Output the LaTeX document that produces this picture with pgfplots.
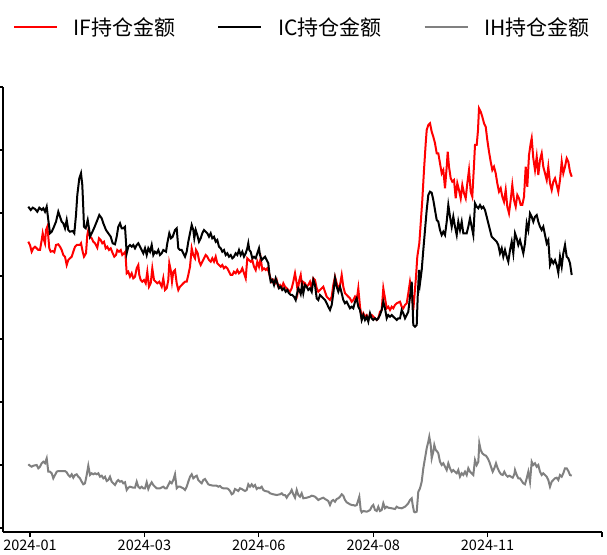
\documentclass[border=0pt]{standalone}
\usepackage{fontspec}
\setmainfont{Noto Sans CJK SC}
\usepackage{pgfplots}
\pgfplotsset{compat=1.18}
\definecolor{ifred}{RGB}{255,0,0}
\definecolor{ihgray}{RGB}{128,128,128}

\begin{document}
\begin{tikzpicture}
\begin{axis}[
  at={(3pt,22pt)}, anchor=south west,
  scale only axis, width=599pt, height=445pt,
  xmin=3, xmax=602, ymin=-4, ymax=441,
  axis x line*=bottom, axis y line*=left,
  axis line style={line width=1.1pt, -},
  xtick={30,144.4,258.8,373.2,487.6,602},
  xticklabels={2024-01,2024-03,2024-06,2024-08,2024-11,{}},
  ytick={0,63,126,189,252,315,378,441},
  yticklabels={},
  tick align=outside, major tick length=5pt,
  tick style={line width=1.1pt, black},
  x tick label style={font=\fontsize{14.5}{14.5}\selectfont, inner sep=1pt, yshift=-2pt},
  legend columns=3,
  legend style={at={(0.5,1)}, anchor=center, yshift=60pt, draw=none,
    font=\fontsize{21}{21}\selectfont,
    /tikz/every odd column/.append style={column sep=14pt},
    /tikz/every even column/.append style={column sep=40pt}},
  legend image code/.code={\draw[#1, line width=1.6pt] (0pt,0pt) -- (43pt,0pt);},
]
% IF
\addplot[ifred, line width=2pt] coordinates {
(28.3,286.3)(30,283)(31.7,276.3)(33.3,279.7)(35,281.3)(36.7,279.7)(38.3,278)(40,278)
(41.7,288)(42.7,294.7)(44,288)(45,284.7)(46,298)(47.3,301.3)(48.3,291.3)(49.3,279.7)
(50.7,276.3)(52.7,277)(54.3,275.7)(56,283)(58.3,283.7)(60,281.3)(61.7,278)(63.3,273)
(65,271.3)(66.7,263)(68.3,268)(70,269.7)(71.7,271.3)(73.3,276.3)(75,281.3)(76.7,283)
(80,283)(81,284.7)(82.7,276.3)(84,271.3)(86,274.7)(87.3,293)(88.3,298)(90,291.3)
(91.7,289.7)(93.3,286.3)(95,284.7)(97.3,280.3)(99,289.7)(100.7,288)(102.3,284.7)(104,286.3)
(105.7,279.7)(107.3,281.3)(109,278)(110.7,279.7)(112.7,274.7)(114.3,271.3)(116,273)(117.3,278)
(119,276.3)(120.7,278)(122.3,273)(124,274.7)(125.3,276.3)(126.7,254.7)(128.3,256.3)(130,251.3)
(131.7,254.7)(133.3,249.7)(135,251.3)(136.7,259.7)(138.3,263)(139.3,253)(140.7,248)(142.3,246.3)
(144,248)(145.7,244.7)(147.3,256.3)(149,241.3)(150.7,244.7)(152.3,259.7)(154,248)(155.7,246.3)
(157.3,244.7)(159.3,246.3)(161.7,241.3)(163.3,249.7)(165,238)(166.7,239.7)(168.3,248)(169.3,264.7)
(170.7,258)(172,246.3)(173.3,256.3)(175,258)(176.7,244.7)(178.3,238)(180,241.3)(181.7,243)
(183.3,244.7)(185,246.3)(186.7,246.3)(188.3,253)(190,261.3)(191.7,279.7)(193.3,273)(195,269.7)
(196,278)(197.7,274.7)(199.3,266.3)(200.7,263)(202.3,266.3)(204,269.7)(205.7,273)(207.3,271.3)
(209,268)(210.7,266.3)(212.3,269.7)(214,266.3)(215.7,271.3)(217.3,264.7)(219,263)(220.7,261.3)
(222.3,263)(224,259.7)(225.7,261.3)(227.3,259.7)(229,256.3)(230.7,253)(232.3,253)(234,256.3)
(235.7,254.7)(237.3,258)(239,254.7)(240.7,256.3)(242.3,259.7)(244,254.7)(245.7,249.7)(247.3,269.7)
(249,268)(250.7,266.3)(252.3,268)(254,261.3)(255.7,258)(257.3,266.3)(259,261.3)(260.7,269.7)
(262.3,258)(264,259.7)(265.7,258)(267.3,259.7)(268.7,256.3)(270,251.3)(271.7,246.3)(273.3,248)
(275,244.7)(276.7,248)(278.3,241.3)(280,243)(281.7,239.7)(283.3,244.7)(285,241.3)(286.7,239.7)
(288.3,238)(290,236.3)(291.7,239.7)(293.3,246.3)(295,254.7)(296.7,244.7)(297.7,236.3)(299.3,248)
(300.7,253)(302,241.3)(303.3,246)(305,244.7)(306.7,241.3)(308.3,243)(310,246.3)(311.7,239.7)
(313.3,249.7)(315,248)(316.7,239.7)(318.3,236.3)(320,238)(321.7,239.7)(323.3,241.3)(325,236.3)
(326.7,231.3)(328.3,229.7)(330,228)(331.7,231.3)(333.3,243)(335,251.3)(336.7,244.7)(338.3,239.7)
(340,243)(341.7,253)(343.3,241.3)(345,234.7)(346.7,233)(348.3,231.3)(350,229.7)(351.7,226.3)
(353.3,228)(355,231.3)(356.7,228)(358.3,239.7)(360,221.3)(361.7,209.7)(363.3,214.7)(365,211.3)
(366.7,213)(368.3,209.7)(370,211.3)(371.7,213)(373.3,211.3)(375,209.7)(376.7,208)(378.3,209.7)
(380,216.3)(381.7,218)(383.3,239.7)(385,229.7)(386.7,219.7)(388.3,221.3)(390,218)(391.7,221.3)
(393.3,219.7)(395,223)(396.7,224.7)(400,226.3)(401.7,221.3)(403.3,219.7)(405,223)(406.7,224.7)
(408.3,234.7)(410,246.3)(411.7,236.3)(413.3,218)(416,251.3)(417.3,271.3)(419.3,284.7)(420.7,304.7)
(422.3,328)(424,358)(425.7,384.7)(426.7,398)(428.3,403)(430,404.7)(431.7,396.3)(433.3,391.3)
(435,384.7)(436.7,374.7)(438.3,374.7)(440,364.7)(441.7,354.7)(443.3,358)(445,339.7)(446.7,361.3)
(447.7,376.3)(449,361.3)(450.7,349.7)(452.3,346.3)(454,348)(455.7,329.7)(457.3,344.7)(459,338)
(460.7,329.7)(462.3,343)(464,334.7)(465.7,329.7)(467.3,344.7)(469,358)(470.7,336.3)(472.3,331.3)
(474,363)(475,383)(476.7,383)(478,398)(479,419.7)(480.7,416.3)(482.3,411.3)(484,404.7)
(485.7,401.3)(487.3,388)(489,376.3)(490.7,366.3)(492.3,358)(494,361.3)(495.7,354.7)(497.3,344.7)
(499,336.3)(500.7,339.7)(502.3,331.3)(504,326.3)(505.7,338)(507.3,321.3)(509,314.7)(510.7,328)
(512.3,343)(514,328)(515.7,321.3)(517.3,333)(519,329.7)(520.7,323)(522.3,323)(524,331.3)
(525.7,361.3)(527.3,341.3)(529,373)(530.7,384.7)(531.7,389.7)(533.3,369.7)(535,358)(536.7,371.3)
(538.3,353)(540,368)(541.7,374.7)(543.3,361.3)(545,354.7)(546.7,348)(548.3,361.3)(550,344.7)
(551.7,338)(553.3,346.3)(555,349.7)(556.7,343)(558.3,336.3)(560,348)(561.7,366.3)(563.3,354.7)
(565,361.3)(566.7,369.7)(568.3,366.3)(570,356.3)(571.7,351.3)
};
\addlegendentry{IF持仓金额}
% IC
\addplot[black, line width=2pt] coordinates {
(28.3,321.3)(30.7,318)(32.7,320.3)(35,319)(37.3,316.3)(39.3,320.3)(41.7,318)(43.3,319.7)
(45,316.3)(46.7,321.3)(48.3,308)(50,294.7)(51.7,296.3)(53.3,299.7)(56,306.3)(58.3,316.3)
(60,311.3)(61.7,306.3)(63.3,304.7)(65,299.7)(66.7,308)(68.3,298)(70,296.3)(72.7,297)
(74.3,294.7)(76,313)(77.3,333)(79.3,349.7)(81,354.7)(82.3,343)(83.3,319.7)(84,301.3)
(85.7,299.7)(87.7,308)(89,299.7)(90,291.3)(91.7,294.7)(94,299.7)(96.7,306.3)(99.3,313)
(101.7,309.7)(103.3,304.7)(106,298)(108.3,294.7)(110.7,291.3)(112.7,284.7)(115,283.7)(116.7,291.3)
(118.3,301.3)(120,304.7)(121.7,299.7)(123.3,299.7)(125,301.3)(126.7,274.7)(128.3,281.3)(130,283)
(131.7,281.3)(133.3,283)(135,279.7)(136.7,283)(138.3,284.7)(140,281.3)(141.7,278)(143.3,274.7)
(145,279.7)(146.7,273)(148.3,279.7)(150,276.3)(151.7,283)(153.3,273)(155,276.3)(156.7,274.7)
(158.3,278)(160,273)(161.7,274.7)(163.3,278)(166,276.3)(167.3,284.7)(169.3,294.7)(171,289.7)
(172.7,291.3)(175,298)(176.7,299.7)(178.3,279.7)(180,278)(181.7,278)(183.3,274.7)(185,271.3)
(186.7,276.3)(188.3,286.3)(190,294.7)(191.7,303)(193.3,298)(194.3,289.7)(195.7,298)(197.3,293)
(199,286.3)(200.7,289.7)(202.3,294.7)(204,298)(205.7,296.3)(207.3,294.7)(209,291.3)(210.7,294.7)
(212.3,289.7)(214,291.3)(215.7,286.3)(217.3,288)(219,281.3)(220.7,279.7)(222.3,276.3)(224,278)
(225.7,273)(227.3,274.7)(229,271.3)(230.7,273)(232.3,269.7)(234,271.3)(235.7,274.7)(237.3,273)
(239,278)(240.7,273)(242.3,276.3)(244,271.3)(245.7,274.7)(247.3,279.7)(248.3,284.7)(249.3,278)
(250.7,276.3)(252.3,269.7)(254,271.3)(255.7,269.7)(257.3,274.7)(259,279.7)(260,273)(261.7,268)
(263.3,269.7)(265,271.3)(266.7,268)(268.3,264.7)(269.3,254.7)(270.7,246.3)(272.3,248)(274,243)
(275.7,249.7)(277.3,244.7)(279,239.7)(280.7,241.3)(282.3,238)(284,239.7)(285.7,236.3)(287.3,238)
(289,234.7)(290.7,233)(292.3,233)(294,231.3)(295.7,228)(296.7,233)(298.3,239.7)(299.3,238)
(300.7,234)(302,243)(303.3,234.7)(305,243)(306.7,241.3)(308.3,238)(310,239.7)(311.7,236.3)
(313.3,248)(315,243)(316.7,229.7)(318.3,228)(320,233)(321.7,231.3)(323.3,229.7)(325,228)
(326.7,224.7)(328.3,221.3)(330,218)(331.7,223)(333.3,234.7)(335,249.7)(336.7,241.3)(338.3,236.3)
(340,241.3)(341.7,234.7)(343.3,228)(345,224.7)(346.7,226.3)(348.3,223)(350,219.7)(351.7,221.3)
(353.3,219.7)(355,226.3)(356.7,229.7)(358.3,221.3)(360,218)(361.7,208)(363.3,213)(365,208)
(366.7,211.3)(368.3,206.3)(370,214.7)(371.7,209.7)(373.3,208)(375,209.7)(376.7,208)(378.3,209.7)
(380,213)(381.7,218)(383.3,226.3)(385,219.7)(386.7,209.7)(388.3,213)(390,211.3)(391.7,213)
(393.3,211.3)(395,209.7)(396.7,208)(398.3,209.7)(400,209.7)(401.7,218)(403.3,214.7)(405,209.7)
(406.7,213)(408.3,216.3)(410,231.3)(411.7,246.3)(413.3,203)(415,201.3)(416.7,203)(417.7,231.3)
(419,258)(420,244.7)(421.7,258)(423.3,278)(425,298)(426.7,318)(428.3,333)(430,336.3)
(431.7,335.3)(433.3,328)(435,318)(436.7,308)(438.3,306.3)(440,298)(441.7,293)(443.3,296.3)
(445,293)(446.7,306.3)(448.3,323)(450,311.3)(451.7,301.3)(453.3,311.3)(455,301.3)(456.7,293)
(458.3,306.3)(460,298)(461.7,306.3)(463.3,294.7)(465,294.7)(466.7,294.7)(468.3,301.3)(470,309.7)
(471.7,301.3)(473.3,293)(475,324.7)(476.7,321.3)(478.3,319.7)(480,323)(481.7,319.7)(483.3,321.3)
(485,318)(486.7,311.3)(488.3,304.7)(490,298)(491.7,291.3)(493.3,289.7)(495,288)(496.7,286.3)
(498.3,283)(500,274.7)(501.7,279.7)(503.3,271.3)(505,278)(506.7,271.3)(508.3,266.3)(510,278)
(511.7,286.3)(513.3,274.7)(515,294.7)(516.7,289.7)(518.3,283)(520,288)(521.7,281.3)(523.3,274.7)
(525,284.7)(526.7,304.7)(528.3,298)(530,314.7)(531.7,311.3)(533.3,306.3)(535,311.3)(536.7,313)
(538.3,306.3)(540,301.3)(541.7,298)(543.3,301.3)(545,293)(546.7,284.7)(548.3,288)(550,263)
(551.7,268)(553.3,264.7)(555,268)(556.7,263)(558.3,255.3)(560,271.3)(561.7,261.3)(563.3,274.7)
(565,283)(566.7,271.3)(568.3,269.7)(570,264.7)(571.7,253)
};
\addlegendentry{IC持仓金额}
% IH
\addplot[ihgray, line width=2pt] coordinates {
(28.3,63.7)(30,62.3)(31.7,61.3)(33.3,62.3)(36.7,63)(38.3,59.7)(40,61.3)(41.7,64.7)
(43.3,66.3)(45,64.7)(46.7,69.7)(48.3,56.3)(50,56.3)(51.7,54.7)(53.3,49.7)(55,53)
(56.7,56.3)(58.3,57)(61.7,57)(65,57)(66.7,55.7)(68.3,53)(70,51.3)(71.7,53.7)
(73.3,50.3)(75,53)(76.7,53.7)(78.3,51.3)(80,49.7)(81.7,46.3)(83.3,43.7)(85,44.7)
(86.7,53)(88.3,62.3)(90,53)(91.7,54.7)(93.3,53.7)(95,54.7)(96.7,53.7)(98.3,54.7)
(100,51.3)(101.7,52.3)(103.3,49.7)(105,51.3)(106.7,47)(108.3,48)(110,51.3)(111.7,46.3)
(113.3,44.7)(115,43)(116.7,46.3)(118.3,48)(120,46.3)(121.7,47)(123.3,44.7)(125,45.7)
(126.7,38)(128.3,40.3)(130,41.3)(133.3,40.3)(135,40.3)(136.7,46.3)(138.3,41.3)(140,39.7)
(141.7,41.3)(143.3,39.7)(145,39.7)(146.7,45.7)(148.3,39)(150,43)(151.7,45.7)(153.3,43)
(155,41.3)(156.7,39.7)(160,39.7)(163.3,41.3)(165,39.7)(166.7,39.7)(168.3,43)(170,46.3)
(171.7,44.7)(173.3,48)(175,53.7)(176.7,39.7)(178.3,41.3)(180,41.3)(183.3,39.7)(185,38)
(186.7,41.3)(188.3,46.3)(190,51.3)(191.7,53.7)(193.3,49.7)(195,51.3)(196.7,52.3)(198.3,48)
(200,46.3)(201.7,44.7)(203.3,48)(205,49)(206.7,46.3)(208.3,43.7)(210,43)(213.3,42.3)
(216.7,42.3)(218.3,41.3)(220,42)(221.7,40.3)(223.3,39.7)(226.7,39.7)(228.3,39)(230,37)
(231.7,33.7)(233.3,34.7)(235,39)(236.7,38)(238.3,37)(240,39.7)(241.7,39)(243.3,38)
(245,37)(246.7,38)(248.3,43.7)(250,41.3)(251.7,43.7)(253.3,41.3)(255,43)(256.7,39)
(258.3,40.3)(260,39.7)(261.7,41.3)(263.3,38)(265,37)(268.3,36.3)(270,34.7)(273.3,33.7)
(276.7,33)(280,33.7)(281.7,34.7)(283.3,33)(285,33)(286.7,30.3)(288.3,33)(290,34.7)
(291.7,38)(293.3,33.7)(295,30.3)(296.7,38)(298.3,33)(300,31.3)(301.7,34.7)(303.3,29.7)
(306.7,30.3)(310,31.3)(311.7,32.3)(313.3,32)(315,31.3)(316.7,29.7)(318.3,28)(320,29)
(323.3,30.3)(325,29)(326.7,28)(328.3,27)(330,23)(331.7,27)(333.3,28)(335,26.3)
(336.7,29)(338.3,29.7)(340,31.3)(341.7,33.7)(343.3,32.3)(345,28)(346.7,25.7)(348.3,24.7)
(350,23.7)(351.7,23)(353.3,23)(355,22.3)(356.7,23)(358.3,28)(359.3,31.3)(360.7,18)
(361.7,15.7)(363.3,17)(366.7,16.3)(368.3,17)(370,18)(371.7,21.3)(373.3,23)(375,18)
(376.7,17)(378.3,21.3)(380,17)(381.7,18)(383.3,24.7)(385,19.7)(386.7,21.3)(388.3,20.3)
(391.7,19.7)(395,19)(396.7,21.3)(398.3,20.3)(401.7,19.7)(405,21.3)(406.7,23)(408.3,24.7)
(410,28)(411.7,29.7)(412.7,23)(414,16.3)(415,15.7)(416.7,16.3)(418.3,36.3)(420,39.7)
(421.7,46.3)(423.3,59.7)(425,69.7)(426.7,79.7)(428.3,86.3)(429.3,91.3)(430.7,83)(431.7,69.7)
(433.3,76.3)(434.3,83)(435.7,78)(437.3,76.3)(438.3,74.7)(440,66.3)(441.7,63)(443.3,64.7)
(445,61.3)(446.7,58)(448.3,64.7)(450,59.7)(451.7,56.3)(453.3,58)(455,56.3)(456.7,54.7)
(458.3,58)(460,51.3)(461.7,54.7)(463.3,53)(465,56.3)(466.7,53)(468.3,59.7)(470,56.3)
(471.7,54.7)(473.3,53)(475,68)(476.7,63)(478.3,66.3)(479.3,84.7)(480.7,78)(482.3,74.7)
(484.3,73)(486,72.3)(487.7,69.7)(489.3,66.3)(491,61.3)(492.7,56.3)(494.3,59.7)(496,64.7)
(497.7,59.7)(499.3,56.3)(501,53.7)(502.7,53)(504.3,56.3)(506,53)(507.7,51.3)(509.3,52.3)
(511,51.3)(512.7,50.3)(514.3,53.7)(515,58)(516.7,53)(518.3,49.7)(520,49.7)(521.7,47)
(523.3,44.7)(525,43.7)(526.7,49.7)(528.3,56.3)(530,46.3)(531.7,66.3)(533.3,63)(535,64.7)
(536.7,61.3)(538.3,63)(540,56.3)(541.7,53)(543.3,54.7)(545,53)(546.7,51.3)(548.3,48)
(550,41.3)(551.7,46.3)(553.3,48)(555,49.7)(556.7,50.3)(558.3,48)(560,53)(561.7,51.3)
(563.3,54.7)(565,59.7)(566.7,59.7)(568.3,57)(570,53)(571.7,52.3)
};
\addlegendentry{IH持仓金额}
\end{axis}
\pgfresetboundingbox
\useasboundingbox (0,0) rectangle (607pt,554pt);
\end{tikzpicture}
\end{document}
